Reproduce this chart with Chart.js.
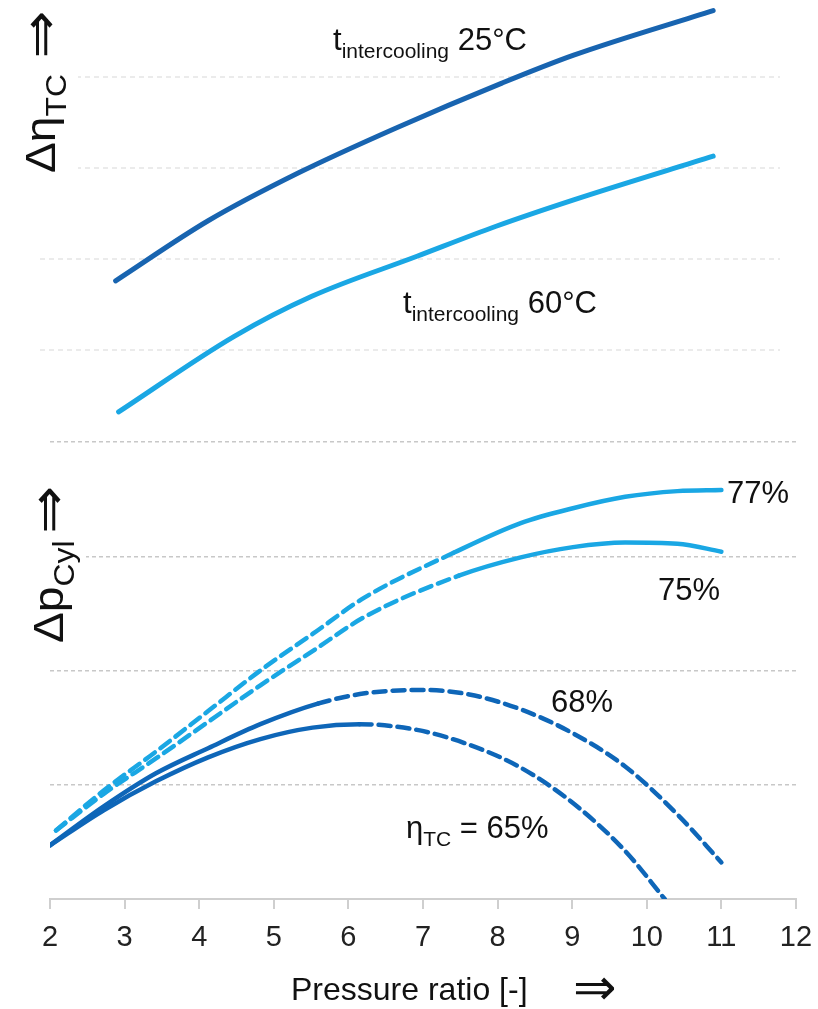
<!DOCTYPE html>
<html>
<head>
<meta charset="utf-8">
<script src="https://cdn.jsdelivr.net/npm/chart.js@4"></script>
<style>
  body { margin: 0; background: #fff; }
  #wrap { position: relative; width: 818px; height: 1009px; overflow: hidden; }
  canvas { position: absolute; left: 0; top: 0; }
  .lbl { position: absolute; font-family: "Liberation Sans", Arial, sans-serif; font-size: 31px; line-height: 31px; color: #111; white-space: nowrap; }
  .sub { font-size: 21px; position: relative; top: 8px; }
  .ytitle { position: absolute; font-family: "Liberation Sans", Arial, sans-serif; font-size: 42px; line-height: 42px; color: #111;
            white-space: nowrap; transform-origin: left top; transform: rotate(-90deg) scale(1.1, 1); background: #fff; padding-bottom: 12px; }
  .ytitle .s { font-size: 29px; position: relative; top: 11px; }
  .arrow { font-family: "DejaVu Sans", sans-serif; }
  .ytitle .arrow { font-size: 52px; position: relative; top: 3px; }
</style>
</head>
<body>
<div id="wrap">
  <canvas id="top" width="818" height="1009"></canvas>
  <canvas id="bottom" width="818" height="1009"></canvas>

  <div class="ytitle" style="left:16px; top:173px;">Δη<span class="s">TC</span><span class="arrow" style="margin-left:14px;">⇒</span></div>
  <div class="ytitle" style="left:24px; top:643px;">Δp<span class="s">Cyl</span><span class="arrow" style="margin-left:6px;">⇒</span></div>

  <div class="lbl" style="left:333px; top:24px;">t<span class="sub">intercooling</span> 25°C</div>
  <div class="lbl" style="left:403px; top:287px;">t<span class="sub">intercooling</span> 60°C</div>
  <div class="lbl" style="left:727px; top:477px;">77%</div>
  <div class="lbl" style="left:658px; top:574px;">75%</div>
  <div class="lbl" style="left:551px; top:686px;">68%</div>
  <div class="lbl" style="left:406px; top:812px;">η<span class="sub">TC</span> = 65%</div>
  <div class="lbl" style="left:291px; top:973px; font-size:32px; line-height:32px;">Pressure ratio [-]</div>
  <div class="lbl arrow" style="left:573px; top:961px; font-size:52px; line-height:52px;">⇒</div>
</div>

<script>
// top panel: efficiency gain vs pressure ratio
const pr25 = [2.88, 4.12, 5.34, 6.64, 8.05, 9.02, 10.89];
const eta25 = [1.76, 2.42, 2.95, 3.44, 3.93, 4.24, 4.73];
const pr60 = [2.92, 4.47, 5.51, 6.92, 7.98, 9.02, 10.89];
const eta60 = [0.32, 1.15, 1.59, 2.03, 2.36, 2.65, 3.13];

// bottom panel: cylinder pressure gain for turbo efficiencies
const pr77 = [2.08, 2.72, 3.42, 4.12, 4.82, 5.52, 6.22, 7.41, 8.31, 9.01, 9.71, 10.41, 11.0];
const dp77 = [0.60, 0.95, 1.29, 1.645, 2.0, 2.32, 2.64, 3.03, 3.29, 3.42, 3.52, 3.57, 3.58];
const pr75 = [2.08, 2.72, 3.42, 4.12, 4.82, 5.52, 6.22, 7.48, 8.31, 9.01, 9.71, 10.41, 11.0];
const dp75 = [0.60, 0.92, 1.23, 1.55, 1.87, 2.17, 2.47, 2.83, 2.99, 3.08, 3.12, 3.11, 3.04];
const pr68 = [2.0, 2.72, 3.42, 4.12, 4.82, 5.59, 6.22, 6.99, 7.62, 8.31, 9.01, 9.71, 10.41, 11.0];
const dp68 = [0.47, 0.81, 1.10, 1.32, 1.53, 1.71, 1.80, 1.83, 1.79, 1.66, 1.45, 1.16, 0.74, 0.32];
const pr65 = [2.0, 2.72, 3.42, 4.12, 4.82, 5.52, 6.15, 6.92, 7.62, 8.31, 9.01, 9.71, 10.24];
const dp65 = [0.47, 0.777, 1.03, 1.24, 1.40, 1.50, 1.53, 1.48, 1.35, 1.15, 0.84, 0.42, 0.0];

const xTicks = [2, 3, 4, 5, 6, 7, 8, 9, 10, 11, 12];

const darkBlue = '#0e66b8';
const lightBlue = '#1aa7e4';
const dash = [12, 7];

function pts(xs, ys) {
  return xs.map((x, i) => ({x: x, y: ys[i]}));
}

// dashed after index n (solid first)
function dashAfter(n) {
  return { borderDash: c => c.p0DataIndex >= n ? dash : undefined };
}
// dashed up to index n (solid after)
function dashBefore(n) {
  return { borderDash: c => c.p1DataIndex <= n ? dash : undefined };
}

const common = {
  responsive: false,
  animation: false,
  plugins: { legend: { display: false }, tooltip: { enabled: false } },
  elements: { point: { radius: 0 }, line: { cubicInterpolationMode: 'monotone', borderCapStyle: 'round' } }
};

new Chart(document.getElementById('top'), {
  type: 'line',
  data: {
    datasets: [
      { data: pts(pr25, eta25), borderColor: '#1864b0', borderWidth: 5 },
      { data: pts(pr60, eta60), borderColor: lightBlue, borderWidth: 5 }
    ]
  },
  options: Object.assign({}, common, {
    layout: { padding: { left: 40, right: 38, top: 0, bottom: 568 } },
    scales: {
      x: { type: 'linear', min: 1.866, max: 11.786, display: false },
      y: {
        min: 0, max: 4.846,
        ticks: { display: false },
        grid: { color: '#ebebeb', lineWidth: 2, drawTicks: false },
        border: { display: false, dash: [5, 4] },
        afterBuildTicks: s => { s.ticks = [1, 2, 3, 4].map(v => ({value: v})); },
        afterFit: s => { s.width = 0; }
      }
    }
  })
});

new Chart(document.getElementById('bottom'), {
  type: 'line',
  data: {
    datasets: [
      { data: pts(pr77, dp77), borderColor: lightBlue, borderWidth: 4.5, segment: dashBefore(7) },
      { data: pts(pr75, dp75), borderColor: lightBlue, borderWidth: 4.5, segment: dashBefore(7) },
      { data: pts(pr68, dp68), borderColor: darkBlue, borderWidth: 4.5, segment: dashAfter(5) },
      { data: pts(pr65, dp65), borderColor: darkBlue, borderWidth: 4.5, segment: dashAfter(6) }
    ]
  },
  options: Object.assign({}, common, {
    layout: { padding: { left: 50, right: 22, top: 442, bottom: 0 } },
    scales: {
      x: {
        type: 'linear', min: 2, max: 12,
        ticks: { stepSize: 1, padding: 12, color: '#222', font: { family: "'Liberation Sans'", size: 29 } },
        afterBuildTicks: s => { s.ticks = xTicks.map(v => ({value: v})); },
        grid: { drawOnChartArea: false, drawTicks: true, tickLength: 10, color: '#cfcfcf', lineWidth: 2 },
        border: { display: true, color: '#cfcfcf', width: 2 },
        afterFit: s => { s.height = 110; s.paddingLeft = 0; s.paddingRight = 0; }
      },
      y: {
        min: 0, max: 4,
        ticks: { display: false },
        grid: { color: '#c8c8c8', lineWidth: 1.5, drawTicks: false },
        border: { display: false, dash: [4, 3] },
        afterBuildTicks: s => { s.ticks = [1, 2, 3, 4].map(v => ({value: v})); },
        afterFit: s => { s.width = 0; }
      }
    }
  })
});
</script>
</body>
</html>
